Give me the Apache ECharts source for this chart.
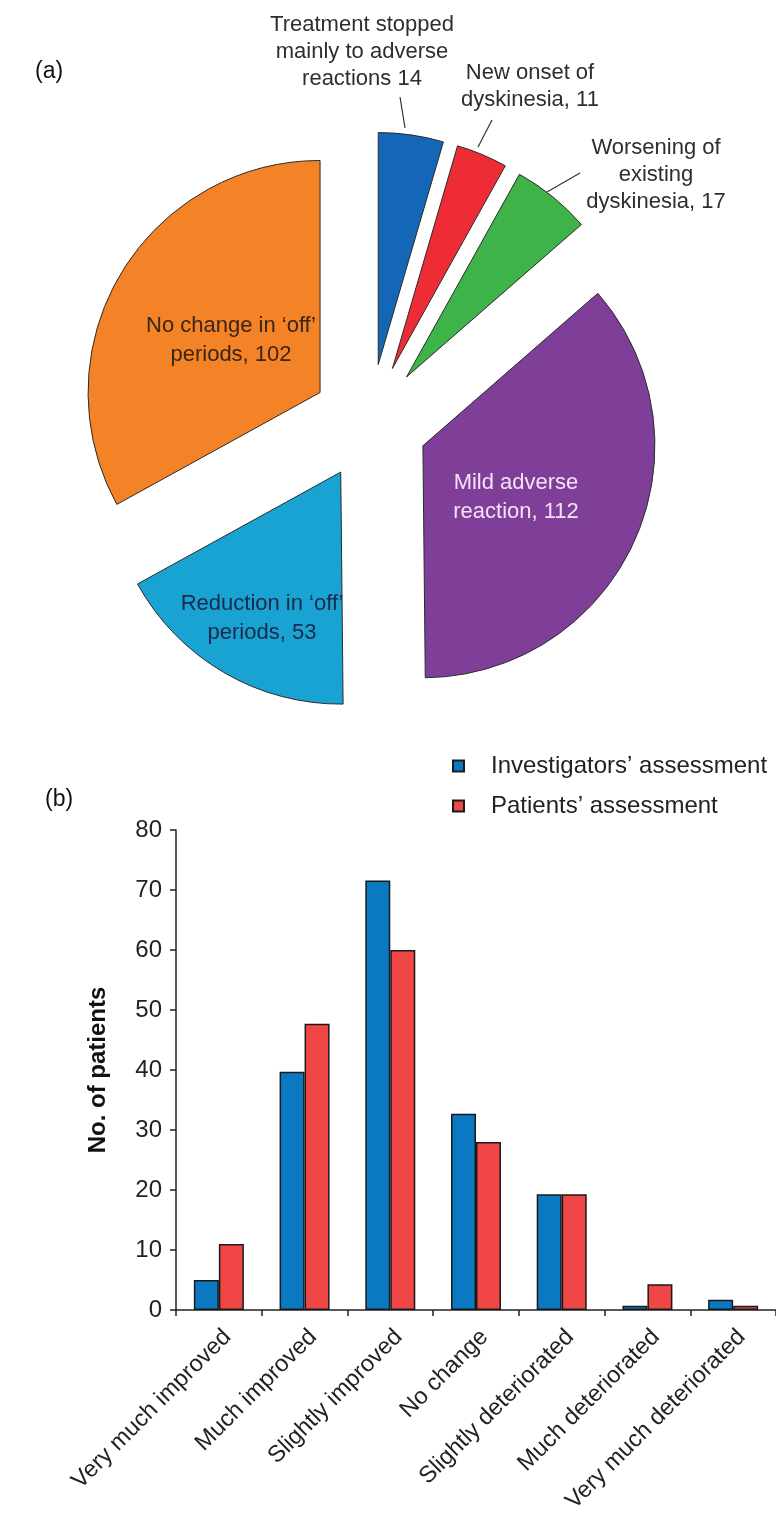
<!DOCTYPE html>
<html>
<head>
<meta charset="utf-8">
<script src="https://cdn.jsdelivr.net/npm/echarts@6/dist/echarts.min.js"></script>
<style>
  html, body { margin: 0; padding: 0; background: #ffffff; }
  #chart { width: 776px; height: 1513px; }
</style>
</head>
<body>
<div id="chart"></div>
<script>
// (a) Outcome of treatment, number of patients per outcome
const outcomeNames = [
  'Treatment stopped\nmainly to adverse\nreactions',
  'New onset of\ndyskinesia',
  'Worsening of\nexisting\ndyskinesia',
  'Mild adverse\nreaction',
  'Reduction in \u2018off\u2019\nperiods',
  'No change in \u2018off\u2019\nperiods'
];
const outcomeValues = [14, 11, 17, 112, 53, 102];
const outcomeColors = ['#1367b6', '#ee2c36', '#3db34a', '#7f3f98', '#18a3d3', '#f48226'];
const outcomeLabelColors = ['#2e2e2e', '#2e2e2e', '#2e2e2e', '#f6e2f6', '#1b2a4c', '#3a2614'];

// (b) Global assessment of efficacy
const categories = [
  'Very much improved', 'Much improved', 'Slightly improved', 'No change',
  'Slightly deteriorated', 'Much deteriorated', 'Very much deteriorated'
];
const investigatorsValues = [5, 39.7, 71.6, 32.7, 19.3, 0.7, 1.7];
const patientsValues = [11, 47.7, 60, 28, 19.3, 4.3, 0.7];
const seriesNames = ['Investigators\u2019 assessment', 'Patients\u2019 assessment'];

const FONT = '"Liberation Sans", Arial, Helvetica, sans-serif';
const INK = '#222222';

// Pie geometry: common centre, radius and how far every slice is pulled out
const PIE_CX = 370;
const PIE_CY = 422;
const PIE_R = 232;
const EXPLODE = 58;

// Where each pie label sits, and the leader line for the small outer slices
const labelSpots = [
  { x: 362, y: 52, line: [[405, 128], [400, 97]] },
  { x: 530, y: 86, line: [[478, 147], [492, 120]] },
  { x: 656, y: 175, line: [[547, 192], [580, 173]] },
  { x: 516, y: 497 },
  { x: 262, y: 618 },
  { x: 231, y: 340 }
];

// One pie series per slice, each shifted outward along its own mid-angle,
// so every slice is drawn separated from the others.
const total = outcomeValues.reduce((a, b) => a + b, 0);
let running = 0;
const pieSeries = outcomeValues.map((v, k) => {
  const mid = (running + v / 2) / total * 2 * Math.PI;
  running += v;
  const cx = PIE_CX + EXPLODE * Math.sin(mid);
  const cy = PIE_CY - EXPLODE * Math.cos(mid);
  const outside = k < 3;
  return {
    type: 'pie',
    center: [cx, cy],
    radius: PIE_R,
    startAngle: 90,
    clockwise: true,
    avoidLabelOverlap: false,
    silent: true,
    emphasis: { disabled: true },
    label: {
      fontFamily: FONT,
      fontSize: 22,
      lineHeight: outside ? 27 : 29,
      align: 'center',
      formatter: (p) => p.name + (p.dataIndex === 0 ? ' ' : ', ') + p.value
    },
    labelLine: { show: outside, length: 10, length2: 10, lineStyle: { color: '#333', width: 1.2 } },
    labelLayout: (p) => {
      const s = labelSpots[p.dataIndex];
      const out = { x: s.x, y: s.y, align: 'center', verticalAlign: 'middle' };
      if (s.line) out.labelLinePoints = s.line;
      return out;
    },
    data: outcomeValues.map((w, i) => (i === k ? {
      name: outcomeNames[i],
      value: w,
      itemStyle: { color: outcomeColors[i], borderColor: '#2b2b2b', borderWidth: 1 },
      label: { show: true, position: outside ? 'outside' : 'inside', color: outcomeLabelColors[i] },
      labelLine: { show: outside }
    } : {
      name: outcomeNames[i],
      value: w,
      itemStyle: { color: 'rgba(0,0,0,0)', borderWidth: 0 },
      label: { show: false },
      labelLine: { show: false }
    }))
  };
});

const chart = echarts.init(document.getElementById('chart'), null, { renderer: 'canvas' });

const option = {
  animation: false,
  backgroundColor: '#ffffff',
  textStyle: { fontFamily: FONT },
  title: [
    { text: '(a)', left: 30, top: 55, textStyle: { fontFamily: FONT, fontSize: 23, fontWeight: 'normal', color: '#111' } },
    { text: '(b)', left: 40, top: 783, textStyle: { fontFamily: FONT, fontSize: 23, fontWeight: 'normal', color: '#111' } }
  ],
  legend: {
    data: seriesNames,
    orient: 'vertical',
    left: 452,
    top: 754,
    padding: 0,
    itemWidth: 11,
    itemHeight: 11,
    itemGap: 16,
    icon: 'rect',
    textStyle: { fontFamily: FONT, fontSize: 24, color: INK, padding: [0, 0, 0, 22] }
  },
  grid: { left: 176, right: 0, top: 830, bottom: 203, outerBoundsMode: 'none', containLabel: false },
  xAxis: {
    type: 'category',
    data: categories,
    axisLine: { lineStyle: { color: INK, width: 1.5 } },
    axisTick: { show: true, length: 6, lineStyle: { color: INK, width: 1.5 } },
    axisLabel: {
      interval: 0, rotate: 45, margin: 15, verticalAlign: 'top',
      fontFamily: FONT, fontSize: 23.5, color: INK
    }
  },
  yAxis: {
    type: 'value',
    min: 0,
    max: 80,
    interval: 10,
    name: 'No. of patients',
    nameLocation: 'middle',
    nameGap: 66,
    nameTextStyle: { fontFamily: FONT, fontSize: 24, fontWeight: 'bold', color: '#111' },
    axisLine: { show: true, lineStyle: { color: INK, width: 1.5 } },
    axisTick: { show: true, length: 6, lineStyle: { color: INK, width: 1.5 } },
    splitLine: { show: false },
    axisLabel: { margin: 14, fontFamily: FONT, fontSize: 24, color: INK }
  },
  series: pieSeries.concat([
    {
      type: 'bar',
      name: seriesNames[0],
      data: investigatorsValues,
      barWidth: 25,
      barGap: '0%',
      itemStyle: { color: '#0b79c2', borderColor: '#1a1a1a', borderWidth: 1.5 }
    },
    {
      type: 'bar',
      name: seriesNames[1],
      data: patientsValues,
      barWidth: 25,
      barGap: '0%',
      itemStyle: { color: '#f04646', borderColor: '#1a1a1a', borderWidth: 1.5 }
    }
  ])
};

chart.setOption(option);
</script>
</body>
</html>
